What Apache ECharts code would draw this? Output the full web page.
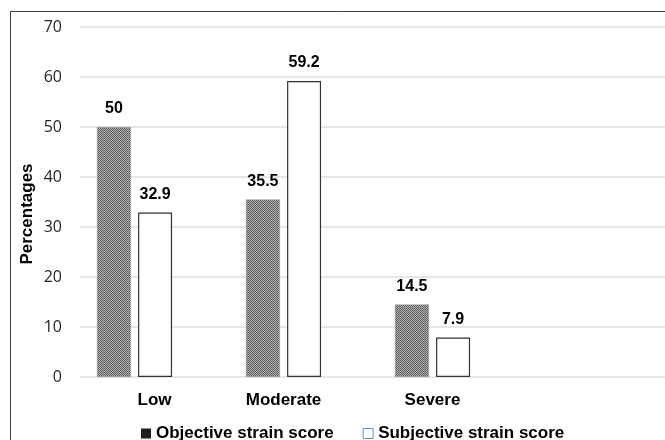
<!DOCTYPE html>
<html>
<head>
<meta charset="utf-8">
<script src="https://cdn.jsdelivr.net/npm/echarts@6/dist/echarts.min.js"></script>
<style>html,body{margin:0;padding:0;background:#fff}#c{width:665px;height:440px}</style>
</head>
<body>
<div id="c"></div>
<script>
const categories = ['Low', 'Moderate', 'Severe', ''];
const objectiveValues = [50, 35.5, 14.5, null];
const subjectiveValues = [32.9, 59.2, 7.9, null];
const seriesNames = ['Objective strain score', 'Subjective strain score'];
const yMin = 0, yMax = 70, yStep = 10;

// checkered pattern for the objective bars
const pat = document.createElement('canvas');
pat.width = 2; pat.height = 2;
const pctx = pat.getContext('2d');
pctx.fillStyle = '#b4b4b4'; pctx.fillRect(0, 0, 2, 2);
pctx.fillStyle = '#5c5c5c'; pctx.fillRect(0, 0, 1, 1); pctx.fillRect(1, 1, 1, 1);

const chart = echarts.init(document.getElementById('c'), null, {renderer: 'canvas'});
const labelFont = 'Liberation Sans';
const catStyle = {fontFamily: 'Liberation Sans', fontWeight: 'bold', fontSize: 17, color: '#000'};
chart.setOption({
  animation: false,
  backgroundColor: '#fff',
  graphic: [{
    type: 'rect', shape: {x: 10.5, y: 11.5, width: 700, height: 500},
    style: {fill: 'none', stroke: '#404040', lineWidth: 1}, silent: true, z: -1
  }],
  grid: [
    {left: 80, right: -10, top: 27, bottom: 63},   // gridlines + y labels
    {left: 60, width: 596, top: 27, bottom: 63}    // bars + category labels
  ],
  legend: {
    left: 136, top: 420, itemWidth: 10, itemHeight: 10, itemGap: 29,
    textStyle: {fontFamily: 'Liberation Sans', fontWeight: 'bold', fontSize: 17, color: '#000'},
    data: [
      {name: seriesNames[0], icon: 'rect', itemStyle: {color: '#1e1e1e', borderWidth: 0}},
      {name: seriesNames[1], icon: 'rect', itemStyle: {color: '#fff', borderColor: '#5b8fd6', borderWidth: 1}}
    ]
  },
  xAxis: [
    {gridIndex: 0, type: 'category', data: categories, show: false},
    {
      gridIndex: 1, type: 'category', data: categories,
      axisTick: {show: false},
      axisLine: {show: false},
      axisLabel: {
        margin: 15, ...catStyle,
        formatter: v => v === 'Low' ? '{off|' + v + '}' : v,
        rich: {off: {...catStyle, padding: [0, 0, 0, 40]}}
      }
    }
  ],
  yAxis: [
    {
      gridIndex: 0, type: 'value', min: yMin, max: yMax, interval: yStep,
      name: 'Percentages', nameLocation: 'middle', nameGap: 44, nameMoveOverlap: false,
      nameTextStyle: {fontFamily: 'Liberation Sans', fontWeight: 'bold', fontSize: 17, color: '#000', padding: [0, 0, 0, -24]},
      axisLine: {show: false}, axisTick: {show: false},
      axisLabel: {margin: 18, fontFamily: 'Open Sans', fontSize: 16, color: '#262626'},
      splitLine: {lineStyle: {color: '#dedede', width: 1.5}}
    },
    {
      gridIndex: 1, type: 'value', min: yMin, max: yMax, interval: yStep, show: false,
      splitLine: {show: false}
    }
  ],
  series: [
    {
      name: seriesNames[0], type: 'bar', xAxisIndex: 1, yAxisIndex: 1, data: objectiveValues,
      barWidth: 34, barGap: '21%',
      itemStyle: {color: {image: pat, repeat: 'repeat'}, borderColor: '#9a9a9a', borderWidth: 0.5},
      label: {show: true, position: 'top', distance: 10, fontFamily: labelFont, fontWeight: 'bold', fontSize: 16, color: '#000'}
    },
    {
      name: seriesNames[1], type: 'bar', xAxisIndex: 1, yAxisIndex: 1, data: subjectiveValues,
      barWidth: 34,
      itemStyle: {color: '#fff', borderColor: '#333', borderWidth: 1.2},
      label: {show: true, position: 'top', distance: 10, fontFamily: labelFont, fontWeight: 'bold', fontSize: 16, color: '#000'}
    }
  ]
});
</script>
</body>
</html>
